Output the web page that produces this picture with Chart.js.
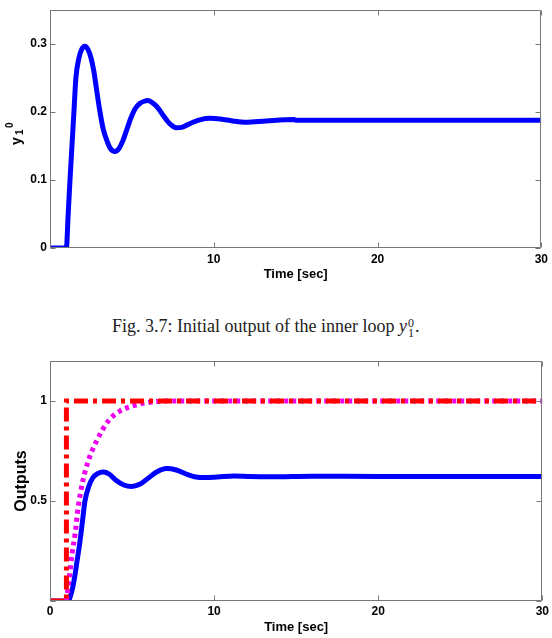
<!DOCTYPE html>
<html>
<head>
<meta charset="utf-8">
<script src="https://cdn.jsdelivr.net/npm/chart.js@4"></script>
<style>
  html, body { margin: 0; padding: 0; background: #fff; }
  body { width: 552px; height: 638px; position: relative; overflow: hidden; }
  #topChart { position: absolute; left: 0; top: 0; }
  #bottomChart { position: absolute; left: 0; top: 340px; }
  #caption {
    position: absolute; left: 112px; top: 315px;
    font: 18px "Liberation Serif", "Times New Roman", serif;
    line-height: 22px; color: #222; white-space: nowrap;
  }
  .ss { display: inline-block; position: relative; width: 8px; height: 1px; }
  .ss span { position: absolute; left: 1px; font-size: 12px; line-height: 12px; }
</style>
</head>
<body>
<canvas id="topChart" width="552" height="290"></canvas>
<div id="caption">Fig. 3.7: Initial output of the inner loop <i>y</i><span class="ss"><span style="top:-14px">0</span><span style="top:-4px">1</span></span>.</div>
<canvas id="bottomChart" width="552" height="298"></canvas>

<script>
// ====================== DATA ======================

const timeTicks = [0, 10, 20, 30];
const y1Ticks = [0, 0.1, 0.2, 0.3];
const outTicks = [0, 0.5, 1];

// Fig 3.7 - initial output of the inner loop
const y1Time  = [0, 1.0, 1.1, 1.22, 1.34, 1.46, 1.58, 1.77, 1.95, 2.13, 2.3, 2.5, 2.68, 2.85, 3.04, 3.25, 3.49, 3.7, 3.96, 4.2, 4.45, 4.7, 4.95, 5.2, 5.5, 5.75, 5.98, 6.3, 6.6, 6.89, 7.1, 7.35, 7.7, 8.1, 8.62, 9.2, 9.74, 10.4, 11.16, 11.96, 13.2, 14.9, 15.0, 20, 30];
const y1Value = [0, 0, 0.045, 0.1, 0.15, 0.2, 0.25, 0.28, 0.293, 0.297, 0.293, 0.28, 0.26, 0.232, 0.202, 0.175, 0.157, 0.146, 0.142, 0.146, 0.158, 0.175, 0.192, 0.205, 0.213, 0.216, 0.217, 0.213, 0.206, 0.196, 0.189, 0.182, 0.177, 0.178, 0.184, 0.189, 0.191, 0.19, 0.187, 0.185, 0.187, 0.189, 0.188, 0.188, 0.188];

// Fig 3.8 - outputs: reference step, model response, plant output
const refTime  = [0, 1, 1, 30];
const refValue = [0, 0, 1, 1];

const modelTime  = [1.0, 1.15, 1.35, 1.52, 1.72, 2.0, 2.33, 2.84, 3.55, 4.26, 5.0, 5.8, 7.0, 30];
const modelValue = [0, 0.1, 0.24, 0.33, 0.47, 0.6, 0.7, 0.8, 0.9, 0.95, 0.975, 0.99, 1.0, 1.0];

const outTime  = [0, 1.1, 1.3, 1.46, 1.65, 1.83, 1.98, 2.13, 2.35, 2.6, 2.9, 3.25, 3.6, 4.0, 4.5, 4.98, 5.5, 6.0, 6.5, 7.1, 7.7, 8.3, 8.9, 9.45, 10.2, 11.2, 12.2, 13.5, 16, 20, 30];
const outValue = [0, 0, 0.04, 0.1, 0.2, 0.3, 0.4, 0.5, 0.57, 0.615, 0.637, 0.645, 0.635, 0.605, 0.58, 0.573, 0.585, 0.615, 0.645, 0.662, 0.655, 0.635, 0.62, 0.617, 0.62, 0.625, 0.622, 0.621, 0.624, 0.623, 0.623];

// ====================== HELPERS ======================

const tickFont = { family: '"Liberation Sans", Arial, sans-serif', size: 12, weight: 'bold' };
const titleFont = { family: '"Liberation Sans", Arial, sans-serif', size: 13, weight: 'bold' };

function pts(t, v) {
    return t.map((x, i) => ({ x: x, y: v[i] }));
}

// MATLAB-like box with inward ticks on all four sides
const matlabFrame = {
    id: 'matlabFrame',
    afterDatasetsDraw(chart) {
        const { ctx, chartArea: a, scales: { x, y } } = chart;
        const L = Math.round(a.left) + 0.5, R = Math.round(a.right) - 0.5;
        const T = Math.round(a.top) + 0.5, B = Math.round(a.bottom) - 0.5;
        ctx.save();
        ctx.strokeStyle = '#777';
        ctx.lineWidth = 1;
        ctx.beginPath();
        ctx.rect(L, T, R - L, B - T);
        x.ticks.forEach(t => {
            const px = Math.round(x.getPixelForValue(t.value)) + 0.5;
            ctx.moveTo(px, B); ctx.lineTo(px, B - 5);
            ctx.moveTo(px, T); ctx.lineTo(px, T + 5);
        });
        y.ticks.forEach(t => {
            const py = Math.round(y.getPixelForValue(t.value)) + 0.5;
            ctx.moveTo(L, py); ctx.lineTo(L + 5, py);
            ctx.moveTo(R, py); ctx.lineTo(R - 5, py);
        });
        ctx.stroke();
        ctx.restore();
    }
};

// y_1^0 label, rotated like the MATLAB ylabel
const y10Label = {
    id: 'y10Label',
    afterDraw(chart) {
        const ctx = chart.ctx;
        const mid = (chart.chartArea.top + chart.chartArea.bottom) / 2;
        ctx.save();
        ctx.translate(21, mid + 16);
        ctx.rotate(-Math.PI / 2);
        ctx.fillStyle = '#000';
        ctx.textBaseline = 'alphabetic';
        ctx.textAlign = 'left';
        ctx.font = 'bold 14px "Liberation Sans", Arial, sans-serif';
        ctx.fillText('y', 0, 0);
        ctx.font = 'bold 10px "Liberation Sans", Arial, sans-serif';
        ctx.fillText('1', 10, 2);
        ctx.fillText('0', 17, -8);
        ctx.restore();
    }
};

function timeAxis(axisHeight, showZero, labelPad, titlePad) {
    return {
        type: 'linear', min: 0, max: 30,
        afterBuildTicks: s => { s.ticks = timeTicks.map(v => ({ value: v })); },
        afterFit: s => { s.height = axisHeight; },
        grid: { display: false, drawTicks: false },
        border: { display: false },
        ticks: {
            color: '#000', font: tickFont, padding: labelPad, maxRotation: 0, autoSkip: false,
            callback: v => (v === 0 && !showZero) ? '' : String(v)
        },
        title: { display: true, text: 'Time [sec]', color: '#000', font: titleFont, padding: { top: 0, bottom: titlePad } }
    };
}

function valueAxis(tickList, max, hideZero, title) {
    const axis = {
        type: 'linear', min: 0, max: max,
        afterBuildTicks: s => { s.ticks = tickList.map(v => ({ value: v })); },
        afterFit: s => { s.width = 50; },
        grid: { display: false, drawTicks: false },
        border: { display: false },
        ticks: {
            color: '#000', font: tickFont, padding: 3, autoSkip: false,
            callback: v => (v === 0 && hideZero) ? '' : String(v)
        }
    };
    if (title) {
        axis.title = { display: true, text: title, color: '#000',
            font: { family: '"Liberation Sans", Arial, sans-serif', size: 16, weight: 'bold' },
            padding: { top: 12, bottom: 0 } };
    }
    return axis;
}

function baseOptions(pad, xAxis, yAxis) {
    return {
        responsive: false,
        animation: false,
        layout: { padding: pad },
        plugins: { legend: { display: false }, tooltip: { enabled: false } },
        scales: { x: xAxis, y: yAxis }
    };
}

// ====================== CHARTS ======================

new Chart(document.getElementById('topChart'), {
    type: 'line',
    data: {
        datasets: [{
            data: pts(y1Time, y1Value),
            borderColor: '#0000ff', borderWidth: 5, pointRadius: 0,
            cubicInterpolationMode: 'monotone', clip: 0
        }]
    },
    options: baseOptions({ top: 9, right: 9, left: 0, bottom: 0 },
        timeAxis(42, false, 4, 8),
        valueAxis(y1Ticks, 0.35, false, null)),
    plugins: [matlabFrame, y10Label]
});

new Chart(document.getElementById('bottomChart'), {
    type: 'line',
    data: {
        datasets: [
            {
                data: pts(refTime, refValue),
                borderColor: '#ff0000', borderWidth: 5, pointRadius: 0,
                borderDash: [14, 5, 4, 5], borderCapStyle: 'butt', clip: 0
            },
            {
                data: pts(modelTime, modelValue),
                borderColor: '#ee00ee', borderWidth: 5, pointRadius: 0,
                borderDash: [4, 4], cubicInterpolationMode: 'monotone', clip: 0
            },
            {
                data: pts(outTime, outValue),
                borderColor: '#0000ff', borderWidth: 5, pointRadius: 0,
                cubicInterpolationMode: 'monotone', clip: 0
            }
        ]
    },
    options: baseOptions({ top: 21, right: 9, left: 0, bottom: 0 },
        timeAxis(37, true, 3, 3),
        valueAxis(outTicks, 1.2, true, 'Outputs')),
    plugins: [matlabFrame]
});
</script>
</body>
</html>
